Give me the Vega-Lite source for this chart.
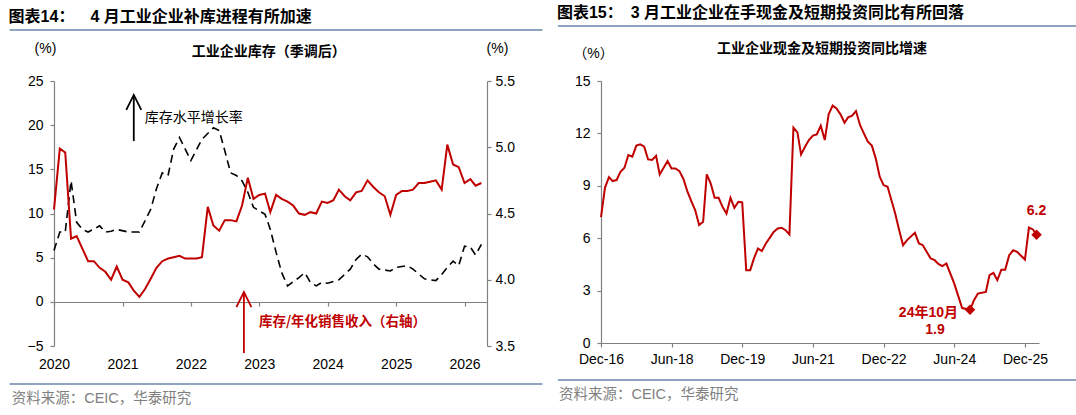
{
  "$schema": "https://vega.github.io/schema/vega-lite/v6.json",
  "background": "white",
  "padding": {"left": 8, "top": 4, "right": 0, "bottom": 0},
  "spacing": 12,
  "config": {
    "font": "Liberation Sans, Noto Sans CJK SC",
    "view": {"stroke": null},
    "title": {"anchor": "start", "fontSize": 16, "fontWeight": "bold", "color": "#000000", "offset": 4, "font": "Liberation Sans, Noto Sans CJK SC"},
    "axis": {
      "grid": false,
      "labelFont": "Liberation Sans",
      "labelFontSize": 14,
      "labelColor": "#000000",
      "domainColor": "#808080",
      "tickColor": "#808080",
      "domainWidth": 1.2,
      "tickWidth": 1.2,
      "tickSize": 4,
      "titleFont": "Liberation Sans, Noto Sans CJK SC",
      "titleFontSize": 14,
      "titleFontWeight": "normal",
      "titleColor": "#000000",
      "labelOverlap": false,
      "labelFlush": false
    }
  },
  "datasets": {
    "inv_growth": [
      {"date": "2020-01-01", "growth": 5.8},
      {"date": "2020-02-01", "growth": 7.9},
      {"date": "2020-03-01", "growth": 7.9},
      {"date": "2020-04-01", "growth": 13.7},
      {"date": "2020-05-01", "growth": 9.0},
      {"date": "2020-06-01", "growth": 8.2},
      {"date": "2020-07-01", "growth": 7.9},
      {"date": "2020-09-01", "growth": 8.6},
      {"date": "2020-10-01", "growth": 7.9},
      {"date": "2020-11-01", "growth": 8.0},
      {"date": "2020-12-01", "growth": 8.2},
      {"date": "2021-02-01", "growth": 7.9},
      {"date": "2021-04-01", "growth": 7.9},
      {"date": "2021-06-01", "growth": 10.5},
      {"date": "2021-07-01", "growth": 12.8},
      {"date": "2021-08-01", "growth": 14.6},
      {"date": "2021-09-01", "growth": 14.3},
      {"date": "2021-10-01", "growth": 17.3},
      {"date": "2021-11-01", "growth": 18.6},
      {"date": "2022-01-01", "growth": 16.0},
      {"date": "2022-03-01", "growth": 18.4},
      {"date": "2022-05-01", "growth": 19.7},
      {"date": "2022-06-01", "growth": 19.4},
      {"date": "2022-07-01", "growth": 17.1},
      {"date": "2022-08-01", "growth": 14.6},
      {"date": "2022-09-01", "growth": 14.3},
      {"date": "2022-10-01", "growth": 13.7},
      {"date": "2022-11-01", "growth": 12.4},
      {"date": "2022-12-01", "growth": 10.7},
      {"date": "2023-01-01", "growth": 10.3},
      {"date": "2023-02-01", "growth": 9.9},
      {"date": "2023-03-01", "growth": 8.2},
      {"date": "2023-04-01", "growth": 5.6},
      {"date": "2023-05-01", "growth": 3.3},
      {"date": "2023-06-01", "growth": 1.8},
      {"date": "2023-08-01", "growth": 2.75},
      {"date": "2023-09-01", "growth": 3.3},
      {"date": "2023-10-01", "growth": 2.2},
      {"date": "2023-11-01", "growth": 1.8},
      {"date": "2023-12-01", "growth": 2.2},
      {"date": "2024-01-01", "growth": 2.1},
      {"date": "2024-03-01", "growth": 2.5},
      {"date": "2024-05-01", "growth": 3.7},
      {"date": "2024-06-01", "growth": 4.8},
      {"date": "2024-07-01", "growth": 5.4},
      {"date": "2024-08-01", "growth": 5.1},
      {"date": "2024-09-01", "growth": 4.3},
      {"date": "2024-10-01", "growth": 3.7},
      {"date": "2024-12-01", "growth": 3.5},
      {"date": "2025-01-01", "growth": 3.9},
      {"date": "2025-03-01", "growth": 4.1},
      {"date": "2025-04-01", "growth": 3.7},
      {"date": "2025-06-01", "growth": 2.6},
      {"date": "2025-08-01", "growth": 2.4},
      {"date": "2025-09-01", "growth": 3.1},
      {"date": "2025-10-01", "growth": 3.9},
      {"date": "2025-11-01", "growth": 4.6},
      {"date": "2025-12-01", "growth": 4.1},
      {"date": "2026-01-01", "growth": 6.3},
      {"date": "2026-02-01", "growth": 6.2},
      {"date": "2026-03-01", "growth": 5.3},
      {"date": "2026-04-01", "growth": 6.5}
    ],
    "inv_ratio": [
      {"date": "2020-01-01", "ratio": 4.53},
      {"date": "2020-02-01", "ratio": 4.99},
      {"date": "2020-03-01", "ratio": 4.96},
      {"date": "2020-04-01", "ratio": 4.31},
      {"date": "2020-05-01", "ratio": 4.33},
      {"date": "2020-07-01", "ratio": 4.14},
      {"date": "2020-08-01", "ratio": 4.14},
      {"date": "2020-09-01", "ratio": 4.09},
      {"date": "2020-10-01", "ratio": 4.06},
      {"date": "2020-11-01", "ratio": 4.0},
      {"date": "2020-12-01", "ratio": 4.1},
      {"date": "2021-01-01", "ratio": 4.0},
      {"date": "2021-02-01", "ratio": 3.98},
      {"date": "2021-03-01", "ratio": 3.92},
      {"date": "2021-04-01", "ratio": 3.87},
      {"date": "2021-05-01", "ratio": 3.93},
      {"date": "2021-06-01", "ratio": 4.01},
      {"date": "2021-07-01", "ratio": 4.09},
      {"date": "2021-08-01", "ratio": 4.14},
      {"date": "2021-09-01", "ratio": 4.16},
      {"date": "2021-10-01", "ratio": 4.17},
      {"date": "2021-11-01", "ratio": 4.18},
      {"date": "2021-12-01", "ratio": 4.16},
      {"date": "2022-01-01", "ratio": 4.16},
      {"date": "2022-02-01", "ratio": 4.16},
      {"date": "2022-03-01", "ratio": 4.17},
      {"date": "2022-04-01", "ratio": 4.55},
      {"date": "2022-05-01", "ratio": 4.41},
      {"date": "2022-06-01", "ratio": 4.37},
      {"date": "2022-07-01", "ratio": 4.45},
      {"date": "2022-08-01", "ratio": 4.45},
      {"date": "2022-09-01", "ratio": 4.44},
      {"date": "2022-10-01", "ratio": 4.56},
      {"date": "2022-11-01", "ratio": 4.77},
      {"date": "2022-12-01", "ratio": 4.61},
      {"date": "2023-01-01", "ratio": 4.64},
      {"date": "2023-02-01", "ratio": 4.65},
      {"date": "2023-03-01", "ratio": 4.51},
      {"date": "2023-04-01", "ratio": 4.64},
      {"date": "2023-05-01", "ratio": 4.61},
      {"date": "2023-06-01", "ratio": 4.59},
      {"date": "2023-07-01", "ratio": 4.56},
      {"date": "2023-08-01", "ratio": 4.5},
      {"date": "2023-09-01", "ratio": 4.49},
      {"date": "2023-10-01", "ratio": 4.51},
      {"date": "2023-11-01", "ratio": 4.5},
      {"date": "2023-12-01", "ratio": 4.59},
      {"date": "2024-01-01", "ratio": 4.58},
      {"date": "2024-02-01", "ratio": 4.6},
      {"date": "2024-03-01", "ratio": 4.68},
      {"date": "2024-04-01", "ratio": 4.63},
      {"date": "2024-05-01", "ratio": 4.6},
      {"date": "2024-06-01", "ratio": 4.66},
      {"date": "2024-07-01", "ratio": 4.67},
      {"date": "2024-08-01", "ratio": 4.75},
      {"date": "2024-09-01", "ratio": 4.7},
      {"date": "2024-10-01", "ratio": 4.66},
      {"date": "2024-11-01", "ratio": 4.63},
      {"date": "2024-12-01", "ratio": 4.49},
      {"date": "2025-01-01", "ratio": 4.64},
      {"date": "2025-02-01", "ratio": 4.67},
      {"date": "2025-03-01", "ratio": 4.67},
      {"date": "2025-04-01", "ratio": 4.68},
      {"date": "2025-05-01", "ratio": 4.73},
      {"date": "2025-06-01", "ratio": 4.73},
      {"date": "2025-07-01", "ratio": 4.74},
      {"date": "2025-08-01", "ratio": 4.75},
      {"date": "2025-09-01", "ratio": 4.68},
      {"date": "2025-10-01", "ratio": 5.02},
      {"date": "2025-11-01", "ratio": 4.87},
      {"date": "2025-12-01", "ratio": 4.85},
      {"date": "2026-01-01", "ratio": 4.73},
      {"date": "2026-02-01", "ratio": 4.76},
      {"date": "2026-03-01", "ratio": 4.71},
      {"date": "2026-04-01", "ratio": 4.73}
    ],
    "cash": [
      {"date": "2016-12-01", "value": 7.2},
      {"date": "2017-01-01", "value": 8.9},
      {"date": "2017-02-01", "value": 9.5},
      {"date": "2017-03-01", "value": 9.27},
      {"date": "2017-04-01", "value": 9.33},
      {"date": "2017-05-01", "value": 9.8},
      {"date": "2017-06-01", "value": 10.03},
      {"date": "2017-07-01", "value": 10.76},
      {"date": "2017-08-01", "value": 10.67},
      {"date": "2017-09-01", "value": 11.3},
      {"date": "2017-10-01", "value": 11.37},
      {"date": "2017-11-01", "value": 11.24},
      {"date": "2017-12-01", "value": 10.51},
      {"date": "2018-01-01", "value": 10.48},
      {"date": "2018-02-01", "value": 10.72},
      {"date": "2018-03-01", "value": 9.65},
      {"date": "2018-05-01", "value": 10.42},
      {"date": "2018-06-01", "value": 9.99},
      {"date": "2018-07-01", "value": 9.99},
      {"date": "2018-08-01", "value": 9.84},
      {"date": "2018-09-01", "value": 9.39},
      {"date": "2018-10-01", "value": 8.7},
      {"date": "2018-11-01", "value": 8.12},
      {"date": "2018-12-01", "value": 7.61},
      {"date": "2019-01-01", "value": 6.75},
      {"date": "2019-02-01", "value": 6.94},
      {"date": "2019-03-01", "value": 9.65},
      {"date": "2019-04-01", "value": 9.13},
      {"date": "2019-05-01", "value": 8.31},
      {"date": "2019-06-01", "value": 8.31},
      {"date": "2019-07-01", "value": 7.8},
      {"date": "2019-08-01", "value": 7.41},
      {"date": "2019-09-01", "value": 8.31},
      {"date": "2019-10-01", "value": 7.74},
      {"date": "2019-11-01", "value": 8.08},
      {"date": "2019-12-01", "value": 8.05},
      {"date": "2020-01-01", "value": 4.17},
      {"date": "2020-02-01", "value": 4.17},
      {"date": "2020-03-01", "value": 4.84},
      {"date": "2020-04-01", "value": 5.41},
      {"date": "2020-05-01", "value": 5.26},
      {"date": "2020-06-01", "value": 5.7},
      {"date": "2020-07-01", "value": 6.02},
      {"date": "2020-08-01", "value": 6.36},
      {"date": "2020-09-01", "value": 6.56},
      {"date": "2020-10-01", "value": 6.6},
      {"date": "2020-11-01", "value": 6.46},
      {"date": "2020-12-01", "value": 6.21},
      {"date": "2021-01-01", "value": 12.33},
      {"date": "2021-02-01", "value": 12.06},
      {"date": "2021-03-01", "value": 10.8},
      {"date": "2021-04-01", "value": 11.24},
      {"date": "2021-05-01", "value": 11.62},
      {"date": "2021-06-01", "value": 11.87},
      {"date": "2021-07-01", "value": 11.94},
      {"date": "2021-08-01", "value": 12.44},
      {"date": "2021-09-01", "value": 11.62},
      {"date": "2021-10-01", "value": 13.09},
      {"date": "2021-11-01", "value": 13.59},
      {"date": "2021-12-01", "value": 13.43},
      {"date": "2022-01-01", "value": 13.09},
      {"date": "2022-02-01", "value": 12.61},
      {"date": "2022-03-01", "value": 12.92},
      {"date": "2022-04-01", "value": 13.02},
      {"date": "2022-05-01", "value": 13.28},
      {"date": "2022-06-01", "value": 12.48},
      {"date": "2022-07-01", "value": 12.0},
      {"date": "2022-08-01", "value": 11.53},
      {"date": "2022-09-01", "value": 11.3},
      {"date": "2022-10-01", "value": 10.57},
      {"date": "2022-11-01", "value": 9.52},
      {"date": "2022-12-01", "value": 9.04},
      {"date": "2023-01-01", "value": 8.94},
      {"date": "2023-03-01", "value": 7.41},
      {"date": "2023-04-01", "value": 6.46},
      {"date": "2023-05-01", "value": 5.6},
      {"date": "2023-06-01", "value": 5.89},
      {"date": "2023-08-01", "value": 6.31},
      {"date": "2023-09-01", "value": 5.7},
      {"date": "2023-10-01", "value": 5.6},
      {"date": "2023-12-01", "value": 4.84},
      {"date": "2024-01-01", "value": 4.74},
      {"date": "2024-02-01", "value": 4.51},
      {"date": "2024-03-01", "value": 4.4},
      {"date": "2024-04-01", "value": 4.55},
      {"date": "2024-06-01", "value": 3.4},
      {"date": "2024-08-01", "value": 2.0},
      {"date": "2024-10-01", "value": 1.9},
      {"date": "2024-11-01", "value": 2.45},
      {"date": "2024-12-01", "value": 2.83},
      {"date": "2025-02-01", "value": 2.92},
      {"date": "2025-03-01", "value": 3.88},
      {"date": "2025-04-01", "value": 4.01},
      {"date": "2025-05-01", "value": 3.6},
      {"date": "2025-06-01", "value": 4.2},
      {"date": "2025-07-01", "value": 4.2},
      {"date": "2025-08-01", "value": 5.03},
      {"date": "2025-09-01", "value": 5.31},
      {"date": "2025-10-01", "value": 5.22},
      {"date": "2025-12-01", "value": 4.78},
      {"date": "2026-01-01", "value": 6.61},
      {"date": "2026-02-01", "value": 6.5},
      {"date": "2026-03-01", "value": 6.2}
    ]
  },
  "hconcat": [
    {
      "title": {"text": "图表14：\u20034 月工业企业补库进程有所加速"},
      "width": 433,
      "height": 265,
      "resolve": {"scale": {"y": "independent"}},
      "layer": [
        {
          "layer": [
            {
              "data": {"name": "inv_growth"},
              "mark": {"type": "line", "color": "#000000", "strokeWidth": 1.6, "strokeDash": [8, 5]},
              "encoding": {
                "x": {
                  "field": "date", "type": "temporal", "title": null,
                  "scale": {"type": "utc", "nice": false, "domain": [{"year": 2020, "month": 1, "date": 1, "utc": true}, {"year": 2026, "month": 5, "date": 1, "utc": true}]},
                  "axis": {
                    "title": null, "format": "%Y", "offset": -44, "labelPadding": 51, "tickSize": 4,
                    "values": [
                      {"year": 2020, "month": 1, "date": 1, "utc": true},
                      {"year": 2021, "month": 1, "date": 1, "utc": true},
                      {"year": 2022, "month": 1, "date": 1, "utc": true},
                      {"year": 2023, "month": 1, "date": 1, "utc": true},
                      {"year": 2024, "month": 1, "date": 1, "utc": true},
                      {"year": 2025, "month": 1, "date": 1, "utc": true},
                      {"year": 2026, "month": 1, "date": 1, "utc": true}
                    ]
                  }
                },
                "y": {
                  "field": "growth", "type": "quantitative", "title": "(%)",
                  "scale": {"domain": [-5, 25], "nice": false, "zero": false},
                  "axis": {
                    "orient": "left", "values": [-5, 0, 5, 10, 15, 20, 25], "labelPadding": 7,
                    "title": "(%)", "titleAngle": 0, "titleX": -9, "titleY": -33, "titleAlign": "center", "titleBaseline": "middle"
                  }
                }
              }
            },
            {
              "data": {"values": [{}]},
              "mark": {"type": "rule", "color": "#8EA4C0", "strokeWidth": 2},
              "encoding": {
                "x": {"datum": {"year": 2019, "month": 5, "date": 9, "utc": true}, "type": "temporal"},
                "x2": {"datum": {"year": 2027, "month": 2, "date": 21, "utc": true}},
                "y": {"datum": 30.77, "type": "quantitative"}
              }
            },
            {
              "data": {"values": [{}]},
              "mark": {"type": "rule", "color": "#8EA4C0", "strokeWidth": 2},
              "encoding": {
                "x": {"datum": {"year": 2019, "month": 5, "date": 9, "utc": true}, "type": "temporal"},
                "x2": {"datum": {"year": 2027, "month": 2, "date": 21, "utc": true}},
                "y": {"datum": -9.3, "type": "quantitative"}
              }
            },
            {
              "data": {"values": [{}]},
              "mark": {"type": "text", "text": "资料来源：CEIC，华泰研究", "align": "left", "baseline": "middle", "fontSize": 14.5, "color": "#7f7f7f", "font": "Liberation Sans, Noto Sans CJK SC"},
              "encoding": {
                "x": {"datum": {"year": 2019, "month": 5, "date": 20, "utc": true}, "type": "temporal"},
                "y": {"datum": -11.0, "type": "quantitative"}
              }
            },
            {
              "data": {"values": [{}]},
              "mark": {"type": "text", "text": "工业企业库存（季调后）", "align": "center", "baseline": "middle", "fontSize": 14, "fontWeight": "bold", "color": "#000000", "font": "Noto Sans CJK SC"},
              "encoding": {
                "x": {"datum": {"year": 2023, "month": 2, "date": 20, "utc": true}, "type": "temporal"},
                "y": {"datum": 28.28, "type": "quantitative"}
              }
            },
            {
              "data": {"values": [{}]},
              "mark": {"type": "rule", "color": "#000000", "strokeWidth": 1.8},
              "encoding": {
                "x": {"datum": {"year": 2021, "month": 3, "date": 2, "utc": true}, "type": "temporal"},
                "y": {"datum": 23.4, "type": "quantitative"},
                "y2": {"datum": 18.2}
              }
            },
            {
              "data": {"values": [{}]},
              "mark": {"type": "point", "shape": "M-1,1L0,-1L1,1", "filled": false, "stroke": "#000000", "strokeWidth": 1.8, "size": 225, "opacity": 1},
              "encoding": {
                "x": {"datum": {"year": 2021, "month": 3, "date": 2, "utc": true}, "type": "temporal"},
                "y": {"datum": 22.57, "type": "quantitative"}
              }
            },
            {
              "data": {"values": [{}]},
              "mark": {"type": "text", "text": "库存水平增长率", "align": "left", "baseline": "middle", "fontSize": 14, "color": "#000000", "font": "Noto Sans CJK SC"},
              "encoding": {
                "x": {"datum": {"year": 2021, "month": 4, "date": 30, "utc": true}, "type": "temporal"},
                "y": {"datum": 20.81, "type": "quantitative"}
              }
            },
            {
              "data": {"values": [{}]},
              "mark": {"type": "rule", "color": "#c00000", "strokeWidth": 1.8},
              "encoding": {
                "x": {"datum": {"year": 2022, "month": 10, "date": 11, "utc": true}, "type": "temporal"},
                "y": {"datum": 1.1, "type": "quantitative"},
                "y2": {"datum": -5.8}
              }
            },
            {
              "data": {"values": [{}]},
              "mark": {"type": "point", "shape": "M-1,1L0,-1L1,1", "filled": false, "stroke": "#c00000", "strokeWidth": 1.8, "size": 225, "opacity": 1},
              "encoding": {
                "x": {"datum": {"year": 2022, "month": 10, "date": 11, "utc": true}, "type": "temporal"},
                "y": {"datum": 0.26, "type": "quantitative"}
              }
            },
            {
              "data": {"values": [{}]},
              "mark": {"type": "text", "text": "库存/年化销售收入（右轴）", "align": "left", "baseline": "middle", "fontSize": 13.5, "fontWeight": "bold", "color": "#c00000", "font": "Noto Sans CJK SC"},
              "encoding": {
                "x": {"datum": {"year": 2022, "month": 12, "date": 30, "utc": true}, "type": "temporal"},
                "y": {"datum": -2.28, "type": "quantitative"}
              }
            }
          ]
        },
        {
          "data": {"name": "inv_ratio"},
          "mark": {"type": "line", "color": "#c00000", "strokeWidth": 2},
          "encoding": {
            "x": {
              "field": "date", "type": "temporal", "title": null,
              "scale": {"type": "utc", "nice": false, "domain": [{"year": 2020, "month": 1, "date": 1, "utc": true}, {"year": 2026, "month": 5, "date": 1, "utc": true}]},
              "axis": {
                "title": null, "format": "%Y", "offset": -44, "labelPadding": 51, "tickSize": 4,
                "values": [
                  {"year": 2020, "month": 1, "date": 1, "utc": true},
                  {"year": 2021, "month": 1, "date": 1, "utc": true},
                  {"year": 2022, "month": 1, "date": 1, "utc": true},
                  {"year": 2023, "month": 1, "date": 1, "utc": true},
                  {"year": 2024, "month": 1, "date": 1, "utc": true},
                  {"year": 2025, "month": 1, "date": 1, "utc": true},
                  {"year": 2026, "month": 1, "date": 1, "utc": true}
                ]
              }
            },
            "y": {
              "field": "ratio", "type": "quantitative", "title": "(%)",
              "scale": {"domain": [3.5, 5.5], "nice": false, "zero": false},
              "axis": {
                "orient": "right", "values": [3.5, 4.0, 4.5, 5.0, 5.5], "format": ".1f", "labelPadding": 4,
                "title": "(%)", "titleAngle": 0, "titleX": 10, "titleY": -33, "titleAlign": "center", "titleBaseline": "middle"
              }
            }
          }
        }
      ]
    },
    {
      "title": {"text": "图表15：\u20023 月工业企业在手现金及短期投资同比有所回落"},
      "width": 438,
      "height": 262,
      "layer": [
        {
          "data": {"name": "cash"},
          "mark": {"type": "line", "color": "#c00000", "strokeWidth": 2},
          "encoding": {
            "x": {
              "field": "date", "type": "temporal", "title": null,
              "scale": {"type": "utc", "nice": false, "domain": [{"year": 2016, "month": 12, "date": 1, "utc": true}, {"year": 2026, "month": 3, "date": 20, "utc": true}]},
              "axis": {
                "title": null, "format": "%b-%y", "labelPadding": 5, "tickSize": 4,
                "values": [
                  {"year": 2016, "month": 12, "date": 1, "utc": true},
                  {"year": 2018, "month": 6, "date": 1, "utc": true},
                  {"year": 2019, "month": 12, "date": 1, "utc": true},
                  {"year": 2021, "month": 6, "date": 1, "utc": true},
                  {"year": 2022, "month": 12, "date": 1, "utc": true},
                  {"year": 2024, "month": 6, "date": 1, "utc": true},
                  {"year": 2025, "month": 12, "date": 1, "utc": true}
                ]
              }
            },
            "y": {
              "field": "value", "type": "quantitative", "title": "（%）",
              "scale": {"domain": [0, 15], "nice": false},
              "axis": {
                "values": [0, 3, 6, 9, 12, 15], "labelPadding": 7,
                "title": "（%）", "titleAngle": 0, "titleX": -8, "titleY": -28, "titleAlign": "center", "titleBaseline": "middle"
              }
            }
          }
        },
        {
          "data": {"name": "cash"},
          "transform": [{"filter": "(utcyear(datum.date) == 2024 && utcmonth(datum.date) == 9) || (utcyear(datum.date) == 2026 && utcmonth(datum.date) == 2)"}],
          "mark": {"type": "point", "shape": "diamond", "filled": true, "color": "#c00000", "size": 110, "opacity": 1},
          "encoding": {
            "x": {"field": "date", "type": "temporal"},
            "y": {"field": "value", "type": "quantitative"}
          }
        },
        {
          "data": {"name": "cash"},
          "transform": [{"filter": "utcyear(datum.date) == 2024 && utcmonth(datum.date) == 9"}],
          "mark": {"type": "text", "text": "24年10月", "align": "right", "baseline": "middle", "dx": -12, "dy": 3, "fontSize": 14, "fontWeight": "bold", "color": "#c00000", "font": "Liberation Sans, Noto Sans CJK SC"},
          "encoding": {
            "x": {"field": "date", "type": "temporal"},
            "y": {"field": "value", "type": "quantitative"}
          }
        },
        {
          "data": {"name": "cash"},
          "transform": [{"filter": "utcyear(datum.date) == 2024 && utcmonth(datum.date) == 9"}],
          "mark": {"type": "text", "align": "center", "baseline": "middle", "dx": -35, "dy": 20, "fontSize": 14, "fontWeight": "bold", "color": "#c00000", "font": "Liberation Sans"},
          "encoding": {
            "x": {"field": "date", "type": "temporal"},
            "y": {"field": "value", "type": "quantitative"},
            "text": {"field": "value", "type": "quantitative", "format": ".1f"}
          }
        },
        {
          "data": {"name": "cash"},
          "transform": [{"filter": "utcyear(datum.date) == 2026 && utcmonth(datum.date) == 2"}],
          "mark": {"type": "text", "align": "center", "baseline": "middle", "dx": 0, "dy": -24, "fontSize": 14, "fontWeight": "bold", "color": "#c00000", "font": "Liberation Sans"},
          "encoding": {
            "x": {"field": "date", "type": "temporal"},
            "y": {"field": "value", "type": "quantitative"},
            "text": {"field": "value", "type": "quantitative", "format": ".1f"}
          }
        },
        {
          "data": {"values": [{}]},
          "mark": {"type": "rule", "color": "#8EA4C0", "strokeWidth": 2},
          "encoding": {
            "x": {"datum": {"year": 2016, "month": 1, "date": 2, "utc": true}, "type": "temporal"},
            "x2": {"datum": {"year": 2027, "month": 2, "date": 18, "utc": true}},
            "y": {"datum": 18.15, "type": "quantitative"}
          }
        },
        {
          "data": {"values": [{}]},
          "mark": {"type": "rule", "color": "#8EA4C0", "strokeWidth": 2},
          "encoding": {
            "x": {"datum": {"year": 2016, "month": 1, "date": 2, "utc": true}, "type": "temporal"},
            "x2": {"datum": {"year": 2027, "month": 2, "date": 18, "utc": true}},
            "y": {"datum": -2.12, "type": "quantitative"}
          }
        },
        {
          "data": {"values": [{}]},
          "mark": {"type": "text", "text": "资料来源：CEIC，华泰研究", "align": "left", "baseline": "middle", "fontSize": 14.5, "color": "#7f7f7f", "font": "Liberation Sans, Noto Sans CJK SC"},
          "encoding": {
            "x": {"datum": {"year": 2016, "month": 1, "date": 10, "utc": true}, "type": "temporal"},
            "y": {"datum": -2.98, "type": "quantitative"}
          }
        },
        {
          "data": {"values": [{}]},
          "mark": {"type": "text", "text": "工业企业现金及短期投资同比增速", "align": "center", "baseline": "middle", "fontSize": 14, "fontWeight": "bold", "color": "#000000", "font": "Noto Sans CJK SC"},
          "encoding": {
            "x": {"datum": {"year": 2021, "month": 8, "date": 10, "utc": true}, "type": "temporal"},
            "y": {"datum": 16.83, "type": "quantitative"}
          }
        }
      ]
    }
  ]
}
